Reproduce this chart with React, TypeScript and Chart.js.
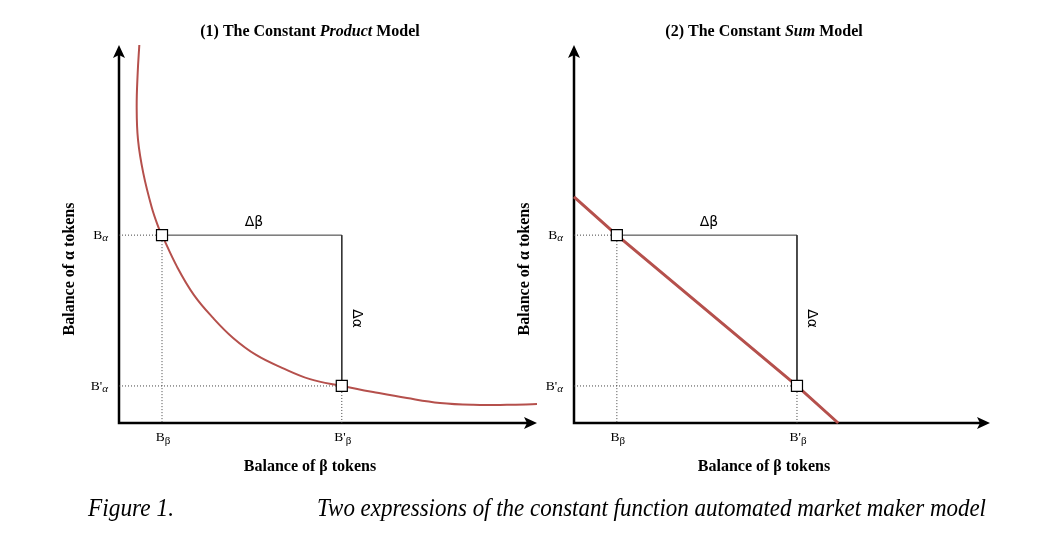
import React, { useEffect, useRef } from "react";
import { Chart, registerables } from "chart.js";

Chart.register(...registerables);

// ---- Data (axis units 0..100 on both axes) ----
const productCurveX = [4.86, 4.47, 4.23, 4.55, 5.81, 7.82, 9.4, 10.29, 13.9, 17.9, 22.5, 27.3, 32.8, 39.0, 45.7, 53.3, 60.8, 68.9, 76.8, 84.7, 92.8, 100];
const productCurveY = [100, 92.6, 83.6, 74.9, 66.1, 57.1, 51.9, 49.7, 41.3, 33.9, 27.8, 22.5, 18.0, 14.6, 11.6, 9.8, 8.2, 6.6, 5.3, 4.8, 4.8, 5.0];
const productBalances = [10.29, 53.3, 49.7, 9.8]; // Bβ, B'β, Bα, B'α

const sumLineX = [0, 10.3, 53.6, 63.5];
const sumLineY = [59.8, 49.7, 9.8, 0];
const sumBalances = [10.3, 53.6, 49.7, 9.8]; // Bβ, B'β, Bα, B'α

const productTitle = [
  { text: "(1) The Constant ", style: "bold" },
  { text: "Product", style: "italic bold" },
  { text: " Model", style: "bold" },
];
const sumTitle = [
  { text: "(2) The Constant ", style: "bold" },
  { text: "Sum", style: "italic bold" },
  { text: " Model", style: "bold" },
];
const xAxisTitle = "Balance of β tokens";
const yAxisTitle = "Balance of α tokens";
const captionLabel = "Figure 1.";
const captionText = "Two expressions of the constant function automated market maker model";

const SERIF = '"Liberation Serif", "Times New Roman", serif';
const CURVE_COLOR = "#b5504c";

function drawRich(ctx: CanvasRenderingContext2D, segs: any[], cx: number, y: number, size: number) {
  let total = 0;
  const widths = segs.map((s) => {
    ctx.font = `${s.style} ${size}px ${SERIF}`;
    const w = ctx.measureText(s.text).width;
    total += w;
    return w;
  });
  let x = cx - total / 2;
  ctx.textAlign = "left";
  ctx.textBaseline = "middle";
  segs.forEach((s, i) => {
    ctx.font = `${s.style} ${size}px ${SERIF}`;
    ctx.fillText(s.text, x, y);
    x += widths[i];
  });
}

function drawSub(
  ctx: CanvasRenderingContext2D,
  main: string,
  sub: string,
  x: number,
  y: number,
  align: "left" | "center" | "right",
  subItalic: boolean,
  subDy: number
) {
  const mainFont = `13.5px ${SERIF}`;
  const subFont = `${subItalic ? "italic " : ""}11px ${SERIF}`;
  ctx.font = mainFont;
  const mw = ctx.measureText(main).width;
  ctx.font = subFont;
  const sw = ctx.measureText(sub).width;
  const total = mw + sw;
  let x0 = x;
  if (align === "center") x0 = x - total / 2;
  if (align === "right") x0 = x - total;
  ctx.textAlign = "left";
  ctx.textBaseline = "middle";
  ctx.font = mainFont;
  ctx.fillText(main, x0, y);
  ctx.font = subFont;
  ctx.fillText(sub, x0 + mw, y + subDy);
}

const diagramPlugin = {
  id: "diagram",
  beforeDatasetsDraw(chart: any) {
    const { ctx, chartArea: a } = chart;
    ctx.save();
    ctx.strokeStyle = "#000";
    ctx.fillStyle = "#000";
    ctx.lineWidth = 2.5;
    ctx.beginPath();
    ctx.moveTo(a.left, a.bottom + 1.25);
    ctx.lineTo(a.left, a.top + 8);
    ctx.moveTo(a.left - 1.25, a.bottom);
    ctx.lineTo(a.right - 8, a.bottom);
    ctx.stroke();
    // y arrowhead
    ctx.beginPath();
    ctx.moveTo(a.left, a.top);
    ctx.lineTo(a.left - 6, a.top + 13);
    ctx.lineTo(a.left, a.top + 10);
    ctx.lineTo(a.left + 6, a.top + 13);
    ctx.closePath();
    ctx.fill();
    // x arrowhead
    ctx.beginPath();
    ctx.moveTo(a.right, a.bottom);
    ctx.lineTo(a.right - 13, a.bottom - 6);
    ctx.lineTo(a.right - 10, a.bottom);
    ctx.lineTo(a.right - 13, a.bottom + 6);
    ctx.closePath();
    ctx.fill();
    ctx.restore();
  },
  afterDraw(chart: any, _args: any, opts: any) {
    const { ctx, chartArea: a, scales } = chart;
    const xs = scales.x;
    const ys = scales.y;
    const [bB, bBn, bA, bAn] = opts.balances;
    const center = (a.left + a.right) / 2 - 18;
    ctx.save();
    ctx.fillStyle = "#000";
    // title
    drawRich(ctx, opts.title, center, 32, 16);
    // x axis title
    ctx.font = `bold 16px ${SERIF}`;
    ctx.textAlign = "center";
    ctx.textBaseline = "middle";
    ctx.fillText(xAxisTitle, center, 467);
    // y axis title
    ctx.save();
    ctx.translate(a.left - 49, 269);
    ctx.rotate(-Math.PI / 2);
    ctx.fillText(yAxisTitle, 0, 0);
    ctx.restore();
    // value labels
    const pxB = xs.getPixelForValue(bB);
    const pxBn = xs.getPixelForValue(bBn);
    const pyA = ys.getPixelForValue(bA);
    const pyAn = ys.getPixelForValue(bAn);
    drawSub(ctx, "B", "α", a.left - 11, pyA, "right", true, 3);
    drawSub(ctx, "B'", "α", a.left - 11, pyAn, "right", true, 3);
    drawSub(ctx, "B", "β", pxB + 1, a.bottom + 14, "center", false, 4);
    drawSub(ctx, "B'", "β", pxBn + 1, a.bottom + 14, "center", false, 4);
    // deltas
    ctx.font = `14px "DejaVu Sans", ${SERIF}`;
    ctx.textAlign = "center";
    ctx.textBaseline = "middle";
    ctx.fillText("Δβ", (pxB + pxBn) / 2 + 2, pyA - 13);
    ctx.save();
    ctx.translate(pxBn + 15, (pyA + pyAn) / 2 + 8);
    ctx.rotate(Math.PI / 2);
    ctx.fillText("Δα", 0, 0);
    ctx.restore();
    // caption
    if (opts.caption) {
      ctx.font = `italic 25px ${SERIF}`;
      ctx.textAlign = "left";
      ctx.textBaseline = "alphabetic";
      const fit = (t: string, x: number, w: number) => {
        const m = ctx.measureText(t).width;
        ctx.save();
        ctx.translate(x, 516);
        ctx.scale(w / m, 1);
        ctx.fillText(t, 0, 0);
        ctx.restore();
      };
      fit(captionLabel, 88, 86);
      fit(captionText, 317, 669);
    }
    ctx.restore();
  },
};

function pts(xs: number[], ys: number[]) {
  return xs.map((x, i) => ({ x, y: ys[i] }));
}

function buildConfig(
  curveX: number[],
  curveY: number[],
  balances: number[],
  curveWidth: number,
  tension: number,
  padding: any,
  title: any[],
  caption: boolean
): any {
  const [bB, bBn, bA, bAn] = balances;
  const dotted = (data: any[]) => ({
    data,
    showLine: true,
    borderColor: "#444",
    borderWidth: 1,
    borderDash: [1, 2],
    pointRadius: 0,
    order: 3,
    clip: false,
  });
  return {
    type: "scatter",
    data: {
      datasets: [
        {
          label: "markers",
          data: [
            { x: bB, y: bA },
            { x: bBn, y: bAn },
          ],
          showLine: false,
          pointStyle: "rect",
          pointRadius: 7.8,
          pointBackgroundColor: "#fff",
          pointBorderColor: "#000",
          pointBorderWidth: 1.2,
          order: 0,
          clip: false,
        },
        {
          label: "curve",
          data: pts(curveX, curveY),
          showLine: true,
          borderColor: CURVE_COLOR,
          borderWidth: curveWidth,
          pointRadius: 0,
          tension,
          order: 1,
          clip: false,
        },
        {
          label: "frame",
          data: [
            { x: bB, y: bA },
            { x: bBn, y: bA },
            { x: bBn, y: bAn },
          ],
          showLine: true,
          borderColor: "#333",
          borderWidth: 1,
          pointRadius: 0,
          order: 2,
          clip: false,
        },
        dotted([{ x: 0, y: bA }, { x: bB, y: bA }]),
        dotted([{ x: bB, y: bA }, { x: bB, y: 0 }]),
        dotted([{ x: 0, y: bAn }, { x: bBn, y: bAn }]),
        dotted([{ x: bBn, y: bAn }, { x: bBn, y: 0 }]),
      ],
    },
    options: {
      responsive: false,
      animation: false,
      devicePixelRatio: 1,
      layout: { padding },
      events: [],
      scales: {
        x: { type: "linear", min: 0, max: 100, display: false },
        y: { type: "linear", min: 0, max: 100, display: false },
      },
      plugins: {
        legend: { display: false },
        tooltip: { enabled: false },
        diagram: { balances, title, caption },
      },
    },
    plugins: [diagramPlugin],
  };
}

function DiagramCanvas({ config }: { config: () => any }) {
  const ref = useRef<HTMLCanvasElement | null>(null);
  useEffect(() => {
    const chart = new Chart(ref.current as HTMLCanvasElement, config());
    return () => chart.destroy();
  }, []);
  return (
    <canvas
      ref={ref}
      width={1053}
      height={555}
      style={{ position: "absolute", left: 0, top: 0, width: 1053, height: 555 }}
    />
  );
}

export default function App() {
  return (
    <div style={{ position: "fixed", left: 0, top: 0, width: 1053, height: 555, background: "#fff", overflow: "hidden" }}>
      <DiagramCanvas
        config={() =>
          buildConfig(productCurveX, productCurveY, productBalances, 2, 0.4,
            { left: 119, right: 1053 - 537, top: 45, bottom: 555 - 423 }, productTitle, true)
        }
      />
      <DiagramCanvas
        config={() =>
          buildConfig(sumLineX, sumLineY, sumBalances, 3, 0,
            { left: 574, right: 1053 - 990, top: 45, bottom: 555 - 423 }, sumTitle, false)
        }
      />
    </div>
  );
}
